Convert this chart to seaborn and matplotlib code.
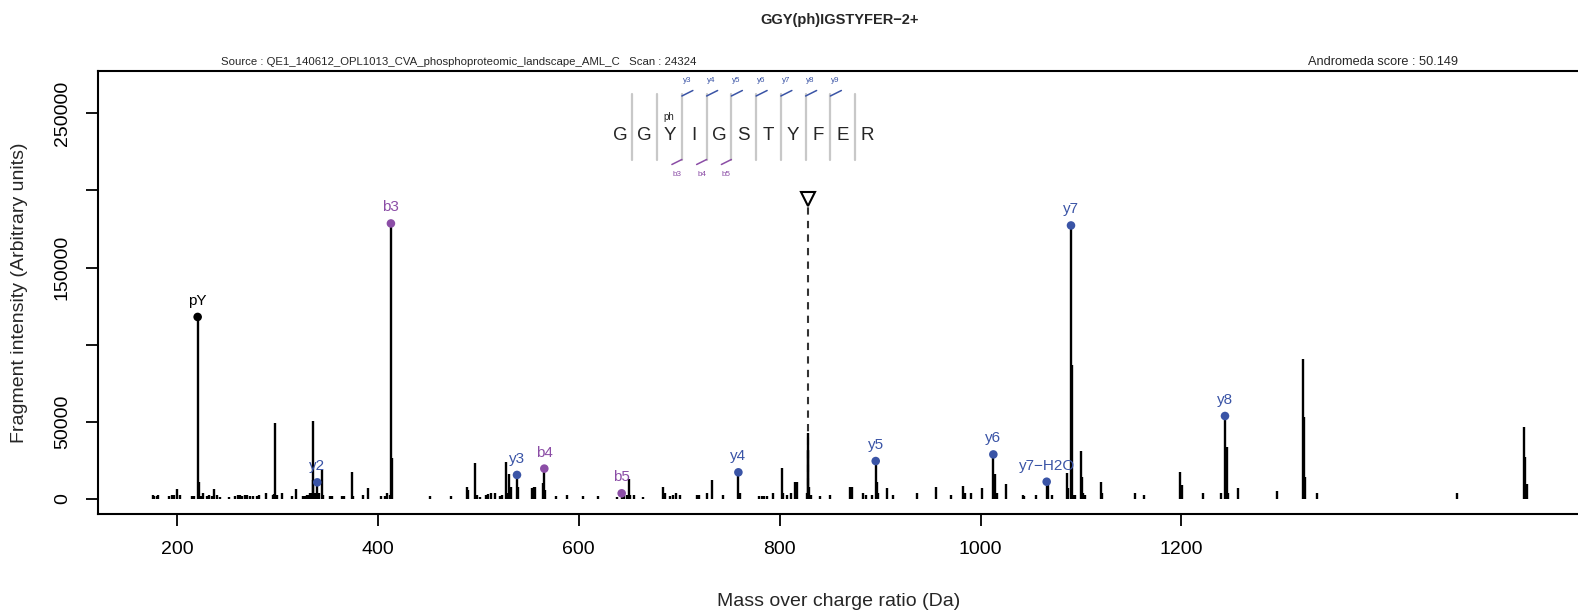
import matplotlib
matplotlib.use("Agg")
import matplotlib.pyplot as plt
import seaborn as sns
import pandas as pd

# ---------------- data (axis units) ----------------
peak_mz = [175.8, 177.4, 179.8, 181.4, 192.4, 194.7, 197.4, 200.3, 203.0, 215.3, 217.3,
           220.6, 221.6, 223.9, 226.2, 229.5, 232.2, 234.5, 236.8, 239.5, 242.8, 252.1,
           258.1, 260.4, 262.7, 264.7, 267.7, 270.0, 272.7, 276.0, 279.3, 282.0, 288.6,
           295.2, 296.9, 297.6, 299.2, 304.2, 314.2, 318.5, 325.8, 327.4, 329.1, 330.7,
           332.4, 334.1, 335.1, 335.7, 337.4, 339.7, 341.7, 344.0, 345.7, 352.3, 354.0,
           363.9, 366.3, 373.9, 375.5, 384.8, 389.8, 402.8, 407.1, 409.4, 412.0, 413.0,
           414.0, 451.9, 472.5, 488.4, 489.4, 496.7, 498.4, 501.7, 507.7, 510.0, 512.6,
           516.6, 521.6, 523.9, 527.6, 528.9, 530.9, 532.2, 538.5, 539.5, 553.1, 555.4,
           556.8, 564.7, 565.7, 566.7, 577.3, 588.0, 604.5, 619.5, 638.4, 642.7, 645.4,
           648.3, 649.7, 651.0, 655.0, 663.6, 684.2, 685.8, 690.8, 693.5, 696.8, 700.8,
           717.4, 720.0, 727.3, 732.3, 744.0, 758.9, 760.5, 779.8, 782.1, 784.4, 787.1,
           793.7, 802.0, 803.7, 807.0, 811.3, 815.3, 817.0, 826.9, 827.9, 828.5, 829.5,
           830.9, 840.2, 850.1, 870.0, 872.3, 883.3, 885.6, 892.3, 895.6, 896.6, 898.2,
           906.5, 913.2, 936.4, 955.6, 970.6, 982.2, 984.5, 990.5, 1001.1, 1012.7, 1014.4,
           1016.0, 1025.3, 1041.9, 1043.2, 1055.1, 1065.8, 1067.4, 1070.7, 1085.7, 1087.3,
           1090.0, 1091.3, 1093.0, 1094.3, 1099.6, 1100.6, 1102.3, 1103.9, 1119.8, 1121.2,
           1153.7, 1163.0, 1198.5, 1200.2, 1221.1, 1239.0, 1243.3, 1245.0, 1246.3, 1256.6,
           1294.7, 1320.6, 1321.9, 1322.9, 1335.2, 1474.2, 1541.0, 1542.3, 1544.3]
peak_int = [2600, 1700, 2200, 2600, 1700, 2600, 2600, 6300, 2400, 1700, 2200,
            118000, 11200, 2200, 3900, 2200, 2600, 2200, 6700, 2600, 1500, 1500,
            2200, 2600, 2600, 2200, 2600, 2600, 2200, 1700, 2200, 2600, 3900,
            2600, 3000, 49000, 2600, 4100, 2200, 6500, 2200, 2200, 2600, 2600,
            3900, 3900, 12600, 50700, 3900, 10800, 3900, 18800, 2600, 2200, 2200,
            1700, 2200, 17300, 2200, 2600, 7100, 1700, 2200, 3900, 2600, 178600,
            26400, 1900, 1900, 8000, 5800, 23100, 2600, 1500, 2600, 3200, 3700,
            3700, 1900, 2600, 23800, 4100, 16200, 8000, 15600, 7600, 6900, 8000,
            7600, 10200, 19700, 5800, 1900, 2600, 1900, 1900, 1500, 3700, 2600,
            2600, 12700, 2600, 2600, 1500, 7600, 3700, 1900, 2600, 3700, 2600,
            2600, 2600, 3700, 12300, 2600, 17300, 3700, 1900, 1900, 1900, 1900,
            3700, 19900, 3700, 2600, 3700, 11200, 11200, 3700, 43000, 31800, 8000,
            2600, 1900, 2600, 7600, 7600, 3700, 2600, 2600, 24600, 11200, 3700,
            6900, 2600, 3700, 7600, 2600, 8400, 3700, 3700, 6900, 28900, 16000,
            3700, 9500, 2600, 1900, 2600, 11200, 9100, 2600, 17100, 6900,
            177300, 86800, 2600, 2600, 31100, 14500, 3700, 2600, 11200, 3700,
            3700, 2600, 17300, 9100, 3700, 3700, 53800, 33900, 3700, 6900,
            5400, 90500, 52900, 14500, 3700, 4100, 46400, 27400, 9700]

ion_labels = ["pY", "y2", "b3", "y3", "b4", "b5", "y4", "y5", "y6", "y7\u2212H2O", "y7", "y8"]
ion_mz = [220.6, 339.7, 413.0, 538.5, 565.7, 642.7, 758.9, 895.6, 1012.7, 1065.8, 1090.0, 1243.3]
ion_int = [118000, 10800, 178600, 15600, 19700, 3700, 17300, 24600, 28900, 11200, 177300, 53800]
ion_type = ["imm", "y", "b", "y", "b", "b", "y", "y", "y", "y", "y", "y"]

precursor_mz = 828.0
precursor_marker = 194400

x_ticks = [200, 400, 600, 800, 1000, 1200]
y_ticks = [0, 50000, 100000, 150000, 200000, 250000]
y_tick_labels = ["0", "50000", "", "150000", "", "250000"]

peptide = list("GGYIGSTYFER")
y_ion_names = ["y3", "y4", "y5", "y6", "y7", "y8", "y9"]
b_ion_names = ["b3", "b4", "b5"]

title = "GGY(ph)IGSTYFER\u22122+"
source_text = "Source : QE1_140612_OPL1013_CVA_phosphoproteomic_landscape_AML_C   Scan : 24324"
score_text = "Andromeda score : 50.149"

# ---------------- styling ----------------
sns.set_style("ticks")
plt.rcParams['font.family'] = ['Liberation Sans', 'DejaVu Sans']

BLUE = "#3A54A6"
PURPLE = "#8B4DA6"
palette = {"imm": "black", "y": BLUE, "b": PURPLE}

W, H = 1578, 611
fig = plt.figure(figsize=(W / 100, H / 100), dpi=100)
L, R, T, B = 97.7, 1582.0, 70.7, 514.0
ax = fig.add_axes([L / W, 1 - B / H, (R - L) / W, (B - T) / H])

ax.vlines(peak_mz, 0, peak_int, color="black", lw=1.7, zorder=2)

ions = pd.DataFrame({"mz": ion_mz, "intensity": ion_int, "type": ion_type, "label": ion_labels})
sns.scatterplot(data=ions, x="mz", y="intensity", hue="type", palette=palette,
                s=38, edgecolor="none", legend=False, ax=ax, zorder=3)
for _, r in ions.iterrows():
    ax.annotate(r["label"], (r["mz"], r["intensity"]), xytext=(0, 11.5),
                textcoords="offset points", ha="center", va="center",
                fontsize=11, color=palette[r["type"]], zorder=4)

# precursor
ax.plot([precursor_mz, precursor_mz], [0, precursor_marker - 3500], ls=(0, (3.5, 3)),
        color="#333333", lw=1.5, zorder=1)
ax.plot([precursor_mz], [precursor_marker], marker="v", ms=10, mfc="white",
        mec="black", mew=1.5, zorder=4)

ax.set_xlim(121.1, 1598.7)
ax.set_ylim(-9720, 277600)
ax.set_xticks(x_ticks)
ax.set_xticklabels([str(v) for v in x_ticks])
ax.set_yticks(y_ticks)
ax.set_yticklabels(y_tick_labels, rotation=90, va="center")
ax.tick_params(direction="out", length=8.4, width=1.3, labelsize=14, pad=11, colors="black")
for s in ax.spines.values():
    s.set_linewidth(1.5)
    s.set_color("black")

ax.set_xlabel("Mass over charge ratio (Da)", fontsize=14)
ax.set_ylabel("Fragment intensity (Arbitrary units)", fontsize=14)
ax.xaxis.set_label_coords((839 - L) / (R - L), -(601 - B) / (B - T))
ax.xaxis.label.set_va("center")
ax.yaxis.set_label_coords((19 - L) / (R - L), 0.5)
ax.yaxis.label.set_va("center")


def fx(px):
    return px / W


def fy(py):
    return 1 - py / H


fig.text(fx(840), fy(20), title, ha="center", va="center", fontsize=10.5, weight="bold")
fig.text(fx(221), fy(61.7), source_text, ha="left", va="center", fontsize=8.2)
fig.text(fx(1458), fy(61.7), score_text, ha="right", va="center", fontsize=9.2)

# peptide sequence annotation
x0, step, ybase = 620.0, 24.75, 135.0
for i, aa in enumerate(peptide):
    fig.text(fx(x0 + i * step), fy(ybase), aa, ha="center", va="center", fontsize=13.5)
fig.text(fx(669), fy(116.5), "ph", ha="center", va="center", fontsize=7)
seps = [x0 + (i + 0.5) * step for i in range(len(peptide) - 1)]
for sx in seps:
    fig.add_artist(plt.Line2D([fx(sx), fx(sx)], [fy(93.5), fy(160)], color="#C8C8C8", lw=1.6))
for j, name in enumerate(y_ion_names):
    sx = seps[2 + j]
    fig.add_artist(plt.Line2D([fx(sx), fx(sx + 11)], [fy(96), fy(90.5)], color=BLUE, lw=1.1))
    fig.text(fx(sx + 5), fy(80.7), name, ha="center", va="center", fontsize=5.8, color=BLUE)
for j, name in enumerate(b_ion_names):
    sx = seps[2 + j]
    fig.add_artist(plt.Line2D([fx(sx), fx(sx - 10)], [fy(159.5), fy(164.5)], color=PURPLE, lw=1.1))
    fig.text(fx(sx - 5), fy(174.3), name, ha="center", va="center", fontsize=5.8, color=PURPLE)

fig.savefig("out.png", dpi=100)
